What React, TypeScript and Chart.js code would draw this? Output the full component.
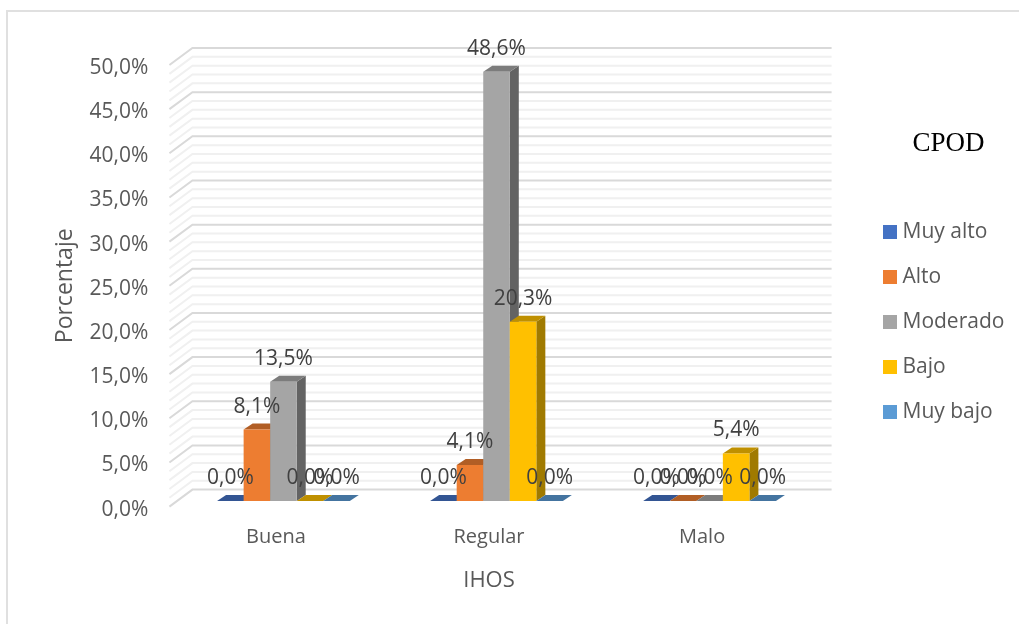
import React, { useEffect, useRef } from "react";
import { Chart, registerables } from "chart.js";

Chart.register(...registerables);

const categories = ["Buena", "Regular", "Malo"];
const seriesNames = ["Muy alto", "Alto", "Moderado", "Bajo", "Muy bajo"];
const legendTitle = "CPOD";
const muyAlto = [0, 0, 0];
const alto = [8.1, 4.1, 0];
const moderado = [13.5, 48.6, 0];
const bajo = [0, 20.3, 5.4];
const muyBajo = [0, 0, 0];
const seriesValues = [muyAlto, alto, moderado, bajo, muyBajo];
const frontColors = ["#4472C4", "#ED7D31", "#A5A5A5", "#FFC000", "#5B9BD5"];
const topColors = ["#335593", "#B15E25", "#7C7C7C", "#BF9000", "#4474A0"];
const sideColors = ["#294477", "#8E4B1D", "#636363", "#A07A00", "#375D80"];

const FONT = "'Open Sans', sans-serif";
const DEPTH_X = 9;
const DEPTH_Y = 6;
const BAR_SHIFT_X = 7.5;
const BAR_SHIFT_Y = -5.5;
const WALL_X = 23;
const WALL_Y = 17;

const fmt = (v: number) => v.toFixed(1).replace(".", ",") + "%";

const walls = {
  id: "walls",
  beforeDatasetsDraw(chart: any) {
    const { ctx, chartArea: a, scales } = chart;
    const y = scales.y;
    ctx.save();
    for (let pass = 0; pass < 2; pass++) {
      for (let v = 0; v <= 50; v++) {
        const major = v % 5 === 0;
        if (major !== (pass === 1)) continue;
        const py = y.getPixelForValue(v);
        ctx.beginPath();
        ctx.moveTo(a.left, py);
        ctx.lineTo(a.left + WALL_X, py - WALL_Y);
        ctx.lineTo(a.right + WALL_X, py - WALL_Y);
        ctx.strokeStyle = major ? "#d9d9d9" : "#f0f0f0";
        ctx.lineWidth = 2;
        ctx.stroke();
      }
    }
    ctx.restore();
    drawBars(chart);
  },
  beforeDatasetDraw() {
    return false;
  },
};

function drawBars(chart: any) {
  const { ctx } = chart;
  ctx.save();
  ctx.translate(BAR_SHIFT_X, BAR_SHIFT_Y);
  chart.data.datasets.forEach((_: any, i: number) => {
    chart.getDatasetMeta(i).data.forEach((bar: any) => {
      const { x, y, base, width } = bar.getProps(["x", "y", "base", "width"], true);
      const l = x - width / 2;
      const r = x + width / 2;
      ctx.fillStyle = sideColors[i];
      ctx.beginPath();
      ctx.moveTo(r, y);
      ctx.lineTo(r + DEPTH_X, y - DEPTH_Y);
      ctx.lineTo(r + DEPTH_X, base - DEPTH_Y);
      ctx.lineTo(r, base);
      ctx.closePath();
      ctx.fill();
      ctx.fillStyle = topColors[i];
      ctx.beginPath();
      ctx.moveTo(l, y);
      ctx.lineTo(l + DEPTH_X, y - DEPTH_Y);
      ctx.lineTo(r + DEPTH_X, y - DEPTH_Y);
      ctx.lineTo(r, y);
      ctx.closePath();
      ctx.fill();
      bar.draw(ctx);
    });
  });
  ctx.restore();
}

const barLabels = {
  id: "barLabels",
  afterDatasetsDraw(chart: any) {
    const { ctx } = chart;
    ctx.save();
    ctx.font = `21px ${FONT}`;
    ctx.fillStyle = "#404040";
    ctx.textAlign = "center";
    ctx.textBaseline = "middle";
    chart.data.datasets.forEach((ds: any, i: number) => {
      chart.getDatasetMeta(i).data.forEach((bar: any, j: number) => {
        ctx.fillText(fmt(ds.data[j]), bar.x + BAR_SHIFT_X, bar.y + BAR_SHIFT_Y - 23);
      });
    });
    ctx.restore();
  },
};

const placeLegend = {
  id: "placeLegend",
  afterLayout(chart: any) {
    const lg = chart.legend;
    lg.left = 864;
    lg.right = 1019;
    lg.top = 197.4;
    lg.bottom = 560;
  },
  afterDraw(chart: any) {
    const { ctx } = chart;
    ctx.save();
    ctx.font = "27px 'Liberation Serif', serif";
    ctx.fillStyle = "#000000";
    ctx.textAlign = "center";
    ctx.textBaseline = "middle";
    ctx.fillText(legendTitle, 948.5, 144);
    ctx.restore();
  },
};

export default function App() {
  const ref = useRef<HTMLCanvasElement>(null);
  useEffect(() => {
    const chart = new Chart(ref.current as HTMLCanvasElement, {
      type: "bar",
      data: {
        labels: categories,
        datasets: seriesNames.map((label, i) => ({
          label,
          data: seriesValues[i],
          backgroundColor: frontColors[i],
          borderWidth: 0,
          categoryPercentage: 0.623,
          barPercentage: 1,
        })),
      },
      plugins: [walls, barLabels, placeLegend],
      options: {
        animation: false,
        responsive: false,
        maintainAspectRatio: false,
        layout: { padding: { left: 52, top: 65, right: 60, bottom: 30 } },
        plugins: {
          tooltip: { enabled: false },
          legend: {
            display: true,
            position: "right",
            align: "start",
            labels: {
              boxWidth: 4,
              boxHeight: 4,
              padding: 24,
              color: "#595959",
              font: { family: FONT, size: 21 },
              generateLabels: (c: any) =>
                Chart.defaults.plugins.legend.labels.generateLabels(c).map((it: any) => ({
                  ...it,
                  lineWidth: 10,
                  strokeStyle: it.fillStyle,
                })),
            },
          },
        },
        scales: {
          x: {
            grid: { display: false },
            border: { display: false },
            ticks: { color: "#595959", font: { family: FONT, size: 20 }, padding: 11 },
            title: {
              display: true,
              text: "IHOS",
              color: "#595959",
              font: { family: FONT, size: 22 },
              padding: { top: 7, bottom: 0 },
            },
          },
          y: {
            min: 0,
            max: 50,
            grid: { display: false },
            border: { display: false },
            ticks: {
              stepSize: 5,
              color: "#595959",
              font: { family: FONT, size: 21 },
              padding: 13,
              labelOffset: 3,
              callback: (v: any) => fmt(Number(v)),
            },
            title: {
              display: true,
              text: "Porcentaje",
              color: "#595959",
              font: { family: FONT, size: 23 },
              padding: { top: 0, bottom: -3 },
            },
          },
        },
      },
    } as any);
    return () => chart.destroy();
  }, []);
  return (
    <div style={{ position: "absolute", left: 0, top: 0, width: 1019, height: 624, background: "#fff", overflow: "hidden" }}>
      <div style={{ position: "absolute", left: 6, top: 10, width: 1040, height: 640, border: "2px solid #e0e0e0" }} />
      <canvas ref={ref} width={1019} height={624} style={{ position: "absolute", left: 0, top: 0 }} />
    </div>
  );
}
